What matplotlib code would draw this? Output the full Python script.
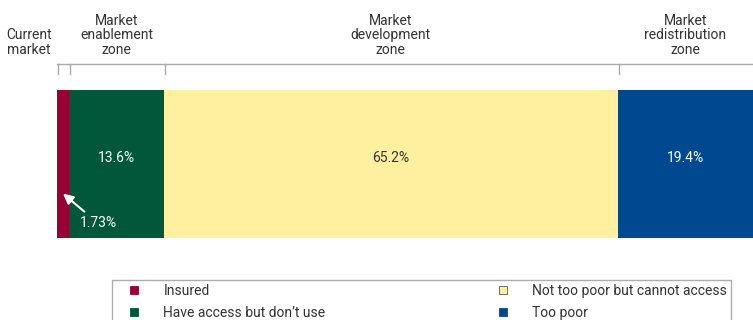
import matplotlib
matplotlib.use('Agg')
from matplotlib import pyplot as plt
from matplotlib.lines import Line2D
import numpy as np

# data
groups = ['Insured', 'Have access but don\u2019t use', 'Not too poor but cannot access', 'Too poor']
shares = [1.73, 13.6, 65.2, 19.4]
share_labels = ['1.73%', '13.6%', '65.2%', '19.4%']
colors = ['#990033', '#00573a', '#fff0a0', '#00488f']
label_colors = ['white', 'white', '#333333', 'white']
zones = ['Current\nmarket', 'Market\nenablement\nzone', 'Market\ndevelopment\nzone', 'Market\nredistribution\nzone']

plt.rcParams['font.family'] = ['Liberation Sans Narrow', 'Roboto', 'DejaVu Sans']
txt = '#333333'
fs = 10

fig = plt.figure(figsize=(7.53, 3.2), dpi=100)
ax = fig.add_axes([57/753, (320-238)/320, 1-57/753, 148/320])

lefts = np.concatenate([[0], np.cumsum(shares)[:-1]])
total = sum(shares)
for i in range(len(shares)):
    ax.barh(0, shares[i], left=lefts[i], height=1, color=colors[i], edgecolor='none')

ax.set_xlim(0, total)
ax.set_ylim(-0.5, 0.5)
ax.axis('off')

# value labels
for i in range(1, len(shares)):
    ax.text(lefts[i] + shares[i]/2, 0.04, share_labels[i], ha='center', va='center',
            color=label_colors[i], fontsize=fs)
ax.annotate(share_labels[0], xy=(shares[0]/2, -0.2), xytext=(5.9, -0.4),
            ha='center', va='center', color='white', fontsize=fs,
            arrowprops=dict(arrowstyle='-|>,head_width=0.3,head_length=0.6', color='white',
                            lw=1.5, shrinkA=2, shrinkB=0))

# zone brackets
tr = ax.get_xaxis_transform()
ax.plot([0, total], [1.176, 1.176], transform=tr, color='#aaaaaa', lw=1, clip_on=False)
bounds = [0, shares[0], shares[0] + shares[1], shares[0] + shares[1] + shares[2]]
for b in bounds:
    ax.plot([b + 0.2, b + 0.2], [1.176, 1.108], transform=tr, color='#aaaaaa', lw=1, clip_on=False)

ax.text(-4.0, 1.32, zones[0], transform=tr, ha='center', va='center', color=txt,
        fontsize=fs, linespacing=1.05)
ends = bounds[1:] + [total]
for i in range(1, 4):
    ax.text((bounds[i] + ends[i]) / 2, 1.37, zones[i], transform=tr, ha='center', va='center',
            color=txt, fontsize=fs, linespacing=1.05)

# legend
handles = [Line2D([], [], marker='s', ls='none', markersize=6, markerfacecolor=c,
                  markeredgecolor='#555555' if c == '#fff0a0' else c, markeredgewidth=0.6)
           for c in colors]
leg = fig.legend(handles, groups, loc='upper left', bbox_to_anchor=(112/753, (320-280)/320),
                 ncol=2, frameon=True, fancybox=False, fontsize=fs, columnspacing=11.45,
                 handletextpad=0.8, handlelength=2.6, labelspacing=0.55, borderpad=0.3,
                 borderaxespad=0)
leg.get_frame().set_edgecolor('#999999')
leg.get_frame().set_linewidth(1)
for t in leg.get_texts():
    t.set_color(txt)

fig.savefig('out.png', dpi=100)
